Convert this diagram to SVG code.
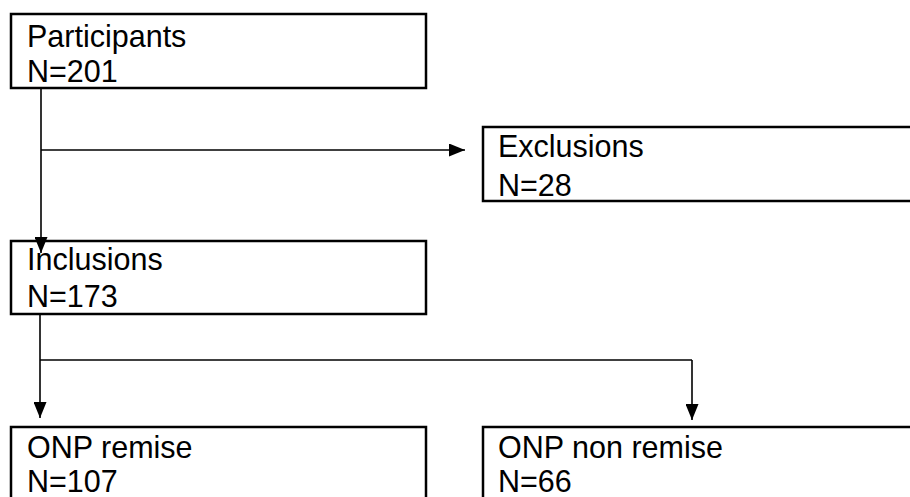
<svg xmlns="http://www.w3.org/2000/svg" width="910" height="497" viewBox="0 0 910 497">
<style>
.box{fill:#fff;stroke:#000;stroke-width:2.5}
.t{font-family:"Liberation Sans",Arial,sans-serif;font-size:30.5px;fill:#000}
.c{fill:none;stroke:#000;stroke-width:1.6}
</style>
<defs>
<marker id="ah" viewBox="0 0 16 13" refX="16" refY="6.5" markerWidth="16" markerHeight="13" markerUnits="userSpaceOnUse" orient="auto">
<path d="M0,0 L16,6.5 L0,13 Z" fill="#000"/>
</marker>
</defs>
<rect width="910" height="497" fill="#fff"/>
<g id="participants">
<rect class="box" x="11" y="14" width="415" height="74"/>
<text class="t" x="27" y="47">Participants</text>
<text class="t" x="27" y="82">N=201</text>
</g>
<g id="exclusions">
<rect class="box" x="483" y="127" width="440" height="74"/>
<text class="t" x="498" y="157">Exclusions</text>
<text class="t" x="498" y="196">N=28</text>
</g>
<g id="inclusions">
<rect class="box" x="11" y="241" width="415" height="73"/>
<text class="t" x="27" y="270">Inclusions</text>
<text class="t" x="27" y="307">N=173</text>
</g>
<g id="onp-remise">
<rect class="box" x="11" y="427" width="415" height="90"/>
<text class="t" x="27" y="458">ONP remise</text>
<text class="t" x="27" y="492">N=107</text>
</g>
<g id="onp-non-remise">
<rect class="box" x="483" y="427" width="440" height="90"/>
<text class="t" x="498" y="458">ONP non remise</text>
<text class="t" x="498" y="492">N=66</text>
</g>
<g id="connectors">
<line class="c" x1="41" y1="89" x2="41" y2="253" marker-end="url(#ah)"/>
<line class="c" x1="41" y1="150" x2="465" y2="150" marker-end="url(#ah)"/>
<line class="c" x1="40" y1="315" x2="40" y2="418" marker-end="url(#ah)"/>
<line class="c" x1="40" y1="360" x2="692" y2="360"/>
<line class="c" x1="692" y1="360" x2="692" y2="420" marker-end="url(#ah)"/>
</g>
</svg>
